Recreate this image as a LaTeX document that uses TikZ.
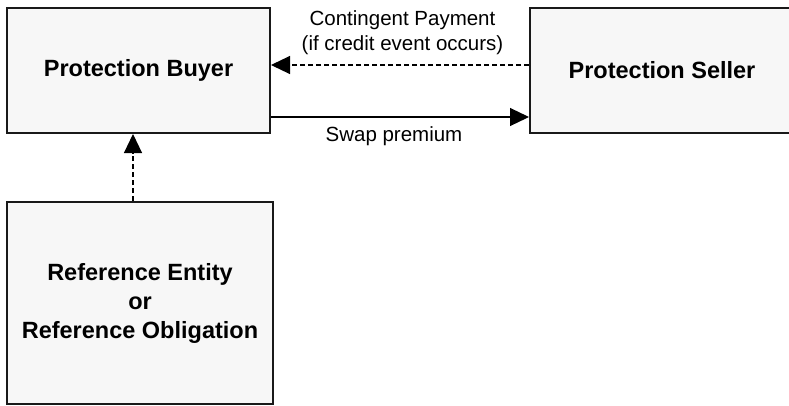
\documentclass[tikz,border=0pt]{standalone}
\usepackage{fontspec}
\setmainfont{Liberation Sans}
\usetikzlibrary{arrows.meta}
\begin{document}
\begin{tikzpicture}[x=1pt,y=-1pt,
  party/.style={draw=black!90,line width=2pt,fill=black!3,
    font=\fontsize{23.5}{29}\selectfont\bfseries,align=center,inner sep=0pt},
  flow/.style={line width=1.1pt,-{Triangle[length=19pt,width=18pt]}},
  contingent/.style={flow,dash pattern=on 5pt off 3pt},
  lbl/.style={font=\fontsize{20.5}{25}\selectfont,inner sep=0pt}]
  \useasboundingbox (0,0) rectangle (789,405);
  \clip (0,0) rectangle (789,405);
  \node[party,minimum width=263pt,minimum height=125pt] (buyer) at (138.5,70.5) {Protection Buyer};
  \node[party,minimum width=264pt,minimum height=125pt] (seller) at (662,70.5) {Protection Seller};
  \node[party,minimum width=266pt,minimum height=202pt] (ref) at (140,303)
    {Reference Entity\\or\\Reference Obligation};
  % contingent payment runs back from seller to buyer, above the premium leg
  \coordinate (dashS) at ([yshift=5.5pt]seller.west);
  \coordinate (dashB) at ([yshift=5.5pt]buyer.east);
  \draw[contingent] (dashS) -- (dashB);
  \coordinate (swapB) at ([yshift=-46.5pt]buyer.east);
  \coordinate (swapS) at ([yshift=-46.5pt]seller.west);
  \draw[flow] (swapB) -- (swapS);
  \coordinate (refN) at (ref.north -| 133,0);
  \coordinate (buyS) at (buyer.south -| 133,0);
  \draw[contingent] (refN) -- (buyS);
  \node[lbl] (cp1) at (402.5,20) {Contingent Payment};
  \node[lbl] (cp2) at (402.5,45) {(if credit event occurs)};
  \node[lbl] (swap) at (394,136) {Swap premium};
\end{tikzpicture}
\end{document}
